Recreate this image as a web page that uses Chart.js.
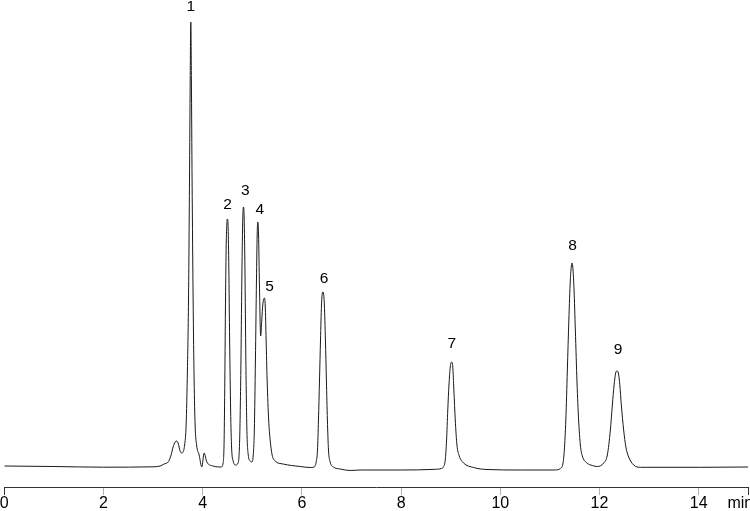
<!DOCTYPE html>
<html>
<head>
<meta charset="utf-8">
<script src="https://cdn.jsdelivr.net/npm/chart.js@4/dist/chart.umd.min.js"></script>
<style>
  html, body { margin: 0; padding: 0; background: #ffffff; }
  #wrap { width: 750px; height: 511px; position: relative; }
</style>
</head>
<body>
<div id="wrap"><canvas id="c"></canvas></div>
<script>
// ---- data (retention time in min, detector signal in arbitrary units) ----
const times = [0, 1.00, 2.00, 3.00, 3.141, 3.222, 3.308, 3.363, 3.403, 3.444, 3.474, 3.504, 3.544, 3.575, 3.605, 3.635, 3.666, 3.692, 3.714, 3.734, 3.748, 3.760, 3.772, 3.786, 3.807, 3.827, 3.847, 3.877, 3.928, 3.982, 4.029, 4.083, 4.210, 4.372,
  4.412, 4.432, 4.446, 4.460, 4.474, 4.486, 4.499, 4.513, 4.527, 4.543, 4.563, 4.583, 4.614, 4.664,
  4.714, 4.745, 4.769, 4.789, 4.805, 4.821, 4.836, 4.852, 4.870, 4.890, 4.916, 4.957, 4.991,
  5.017, 5.041, 5.063, 5.084, 5.098, 5.112, 5.126, 5.144, 5.169, 5.191, 5.213, 5.231, 5.245, 5.261, 5.279, 5.299, 5.330, 5.360, 5.400, 5.461, 5.622, 5.965,
  6.167, 6.248, 6.288, 6.314, 6.334, 6.355, 6.375, 6.395, 6.409, 6.423, 6.437, 6.453, 6.474, 6.494, 6.514, 6.536, 6.570, 6.637, 6.772, 6.974, 7.176, 7.983, 8.689,
  8.810, 8.856, 8.890, 8.917, 8.941, 8.965, 8.991, 9.017, 9.042, 9.064, 9.092, 9.126, 9.173, 9.259, 9.461, 9.731, 10.403, 11.109,
  11.210, 11.261, 11.291, 11.321, 11.352, 11.382, 11.412, 11.432, 11.447, 11.463, 11.487, 11.513, 11.547, 11.579, 11.614, 11.654, 11.749, 11.856, 11.957,
  12.084, 12.158, 12.219, 12.259, 12.294, 12.326, 12.354, 12.380, 12.410, 12.440, 12.487, 12.532, 12.588, 12.689, 12.824, 14.034, 15.0];

const signal = [0, -0.5, -1.2, -0.8, 0, 2, 4.3, 11, 19, 24, 25, 23, 15, 13, 14, 21, 41, 96, 166, 286, 386, 444, 386, 286, 166, 86, 41, 21, 11, -1, 13, 4, 0, -1,
  3, 26, 86, 166, 221, 242, 247, 238, 198, 126, 56, 18, 5, 1,
  3, 26, 96, 186, 241, 259, 248, 196, 106, 38, 12, 5, 4,
  10, 36, 106, 186, 231, 244, 231, 181, 130, 146, 162, 167, 168, 160, 126, 86, 46, 26, 11, 5, 2, -0.5,
  -1.5, -1, 4, 16, 46, 86, 126, 161, 172, 174, 172, 161, 126, 86, 46, 16, 4, -1, -3, -4.5, -4, -4, -3.3,
  -2.5, -0.7, 6, 26, 56, 81, 99, 104, 99, 76, 46, 21, 10, 3, -1.5, -3.5, -4, -4,
  -2.5, 2, 16, 46, 96, 146, 186, 200, 203, 198, 176, 136, 83, 46, 21, 10, 3, 0.5, -0.5,
  3, 11, 36, 61, 81, 93, 95, 93, 81, 61, 36, 19, 9, 1, -1.3, -1.3, -1];

const peakNumbers = ['1', '2', '3', '4', '5', '6', '7', '8', '9'];
const peakTimes   = [3.760, 4.499, 4.821, 5.112, 5.245, 6.423, 9.017, 11.447, 12.354];
const peakHeights = [444, 247, 259, 244, 168, 174, 104, 203, 95];

const tickValues = [0, 2, 4, 6, 8, 10, 12, 14, 15];
const tickLabels = ['0', '2', '4', '6', '8', '10', '12', '14', 'min\u2002\u2002'];

// ---- styling (label offsets in pixels) ----
const labelDx = [0, 0, 2, 2, 5, 1.3, 0.2, 0.6, 1];
const labelDy = [15, 14.5, 16.5, 12, 11, 13, 18.7, 17.3, 21.7];
const FONT = '"Liberation Sans", Arial, Helvetica, sans-serif';

const peakLabelPlugin = {
  id: 'peakLabels',
  afterDatasetsDraw(chart) {
    const ctx = chart.ctx;
    const xs = chart.scales.x, ys = chart.scales.y;
    ctx.save();
    ctx.font = '15.5px ' + FONT;
    ctx.fillStyle = '#000';
    ctx.textAlign = 'center';
    ctx.textBaseline = 'middle';
    peakNumbers.forEach((n, i) => {
      const px = xs.getPixelForValue(peakTimes[i]) + labelDx[i];
      const py = ys.getPixelForValue(peakHeights[i]) - labelDy[i];
      ctx.fillText(n, px, py);
    });
    ctx.restore();
  }
};

new Chart(document.getElementById('c'), {
  type: 'line',
  data: {
    datasets: [{
      data: times.map((t, i) => ({ x: t, y: signal[i] })),
      borderColor: '#1a1a1a',
      borderWidth: 1,
      pointRadius: 0,
      fill: false,
      cubicInterpolationMode: 'monotone'
    }]
  },
  options: {
    responsive: true,
    maintainAspectRatio: false,
    devicePixelRatio: 1,
    animation: false,
    layout: { padding: 0 },
    plugins: { legend: { display: false }, tooltip: { enabled: false } },
    scales: {
      x: {
        type: 'linear',
        min: 0,
        max: 15,
        afterBuildTicks(scale) { scale.ticks = tickValues.map(v => ({ value: v })); },
        afterFit(scale) { scale.paddingLeft = 4.3; scale.paddingRight = 1.7; scale.height = 24; },
        ticks: {
          autoSkip: false,
          maxRotation: 0,
          padding: 1,
          color: '#000',
          font: { family: FONT, size: 16, lineHeight: 1 },
          callback: (v, i) => tickLabels[i]
        },
        grid: {
          drawOnChartArea: false,
          drawTicks: true,
          tickLength: 8,
          lineWidth: 1,
          color: (c) => (c.tick && (c.tick.value === 0 || c.tick.value === 15)) ? '#333' : '#b0b0b0'
        },
        border: { display: true, color: '#333', width: 1 }
      },
      y: {
        display: false,
        min: -21,
        max: 466
      }
    }
  },
  plugins: [peakLabelPlugin]
});
</script>
</body>
</html>
